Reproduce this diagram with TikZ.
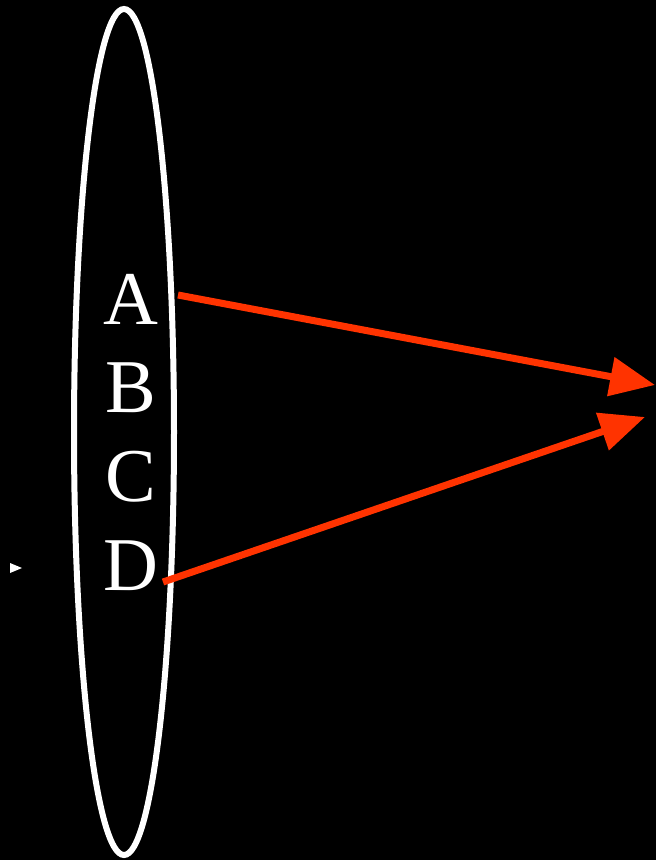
\documentclass[tikz,border=0pt]{standalone}
\usepackage{fontspec}
\setmainfont{Liberation Serif}
\usetikzlibrary{positioning,shapes.geometric,arrows.meta}
\definecolor{ArrRed}{HTML}{FF3300}

\begin{document}
\begin{tikzpicture}[x=1pt,y=-1pt,>={Triangle[length=45pt,width=38pt]}]
  \tikzstyle{letter}=[text=white,inner sep=0pt,font=\fontsize{76}{80}\selectfont]
  \tikzstyle{redarrow}=[->,line width=7pt,color=ArrRed]
  \fill[black] (0,0) rectangle (656,860);
  \useasboundingbox (0,0) rectangle (656,860);
  \node[draw=white,line width=6pt,ellipse,minimum width=100pt,minimum height=846pt,inner sep=0pt] (set) at (124,432) {};
  \node[letter] (A) at (131,299) {A};
  \node[letter,below=38pt of A] (B) {B};
  \node[letter,below=38pt of B] (C) {C};
  \node[letter,below=38pt of C] (D) {D};
  \coordinate (A0) at (178,295);
  \coordinate (D0) at (163,582);
  \coordinate (t1) at (655,385);
  \coordinate (t2) at (645,417);
  \draw[redarrow] (A0)--(t1);
  \draw[redarrow] (D0)--(t2);
  \fill[white] (10,563)--(22,568)--(10,573)--cycle;
\end{tikzpicture}
\end{document}
